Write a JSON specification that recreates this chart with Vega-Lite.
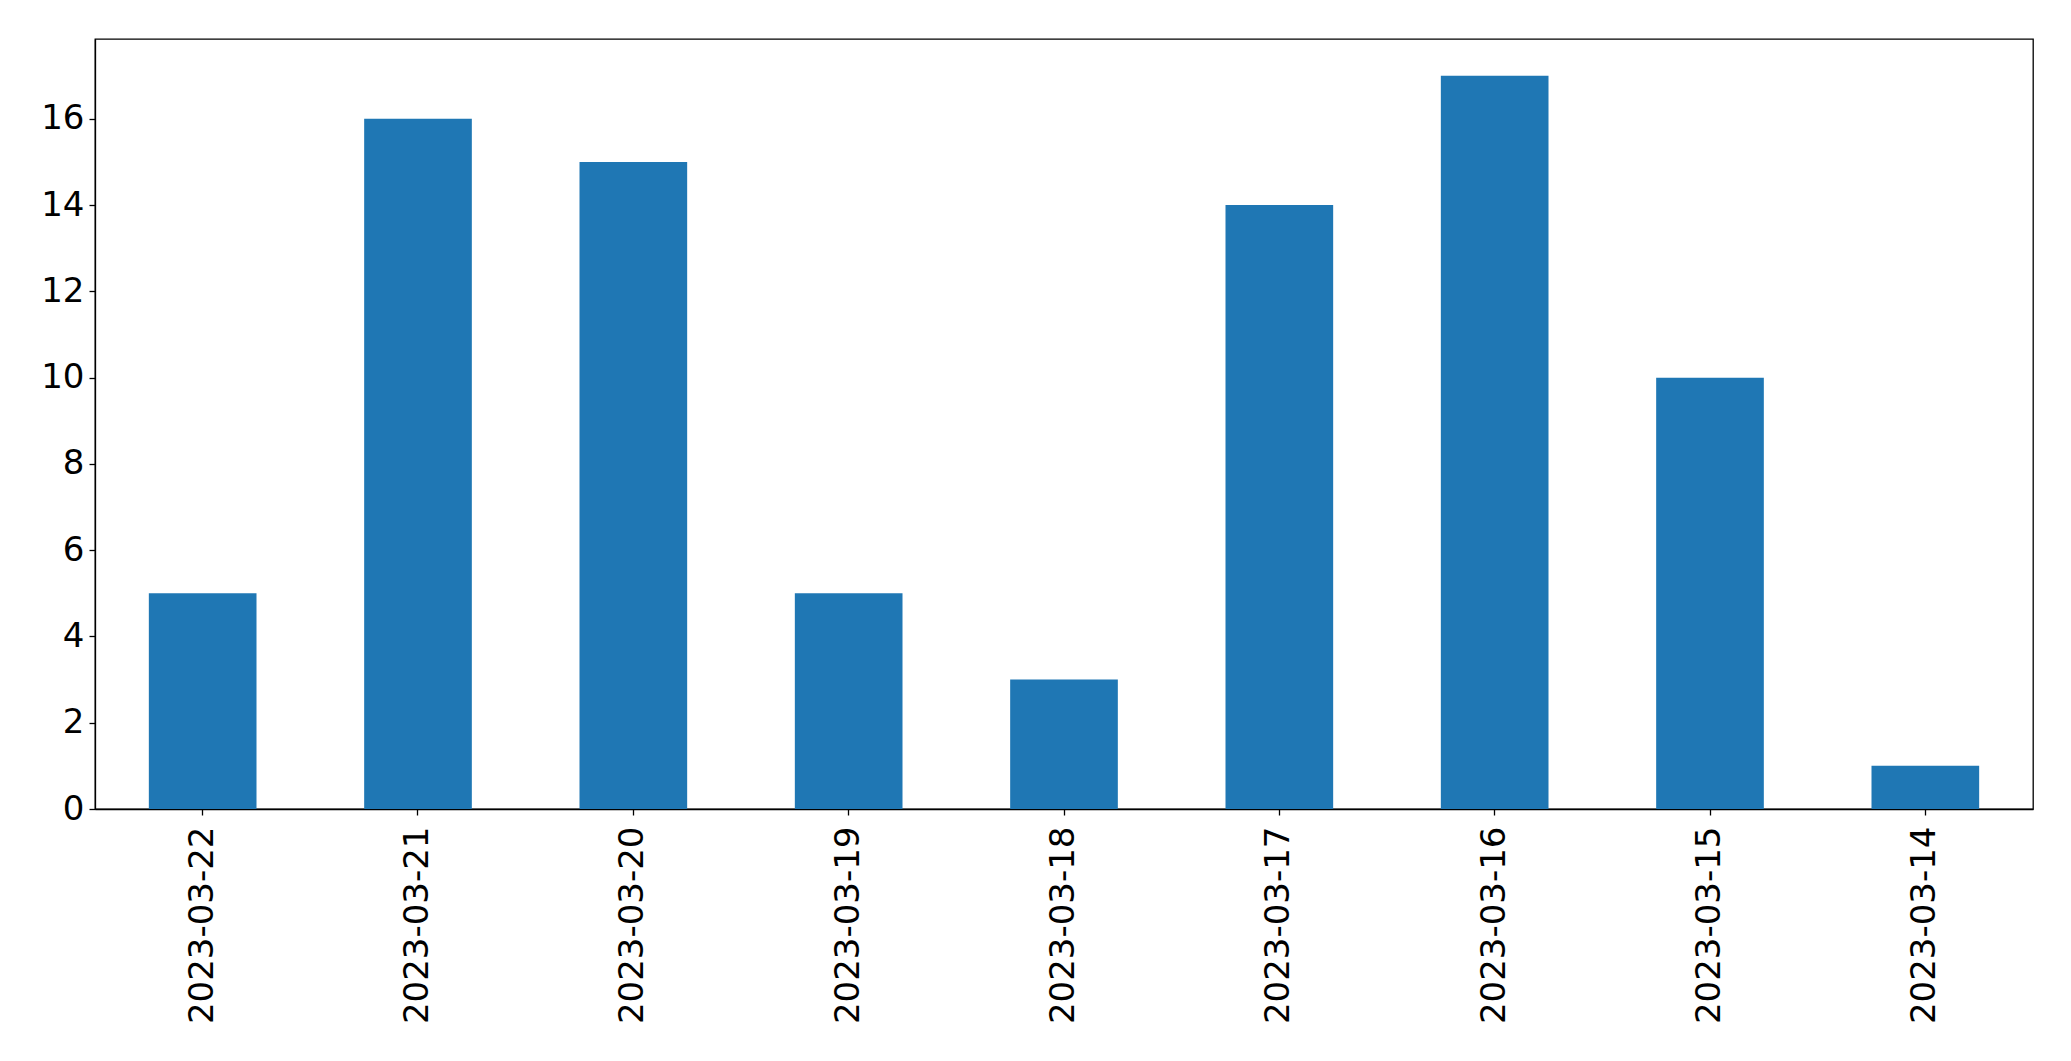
{
  "$schema": "https://vega.github.io/schema/vega-lite/v6.json",
  "autosize": {"type": "none"},
  "padding": {"left": 95, "top": 39, "right": 38, "bottom": 252},
  "width": 1938,
  "height": 770,
  "background": "white",
  "config": {
    "view": {"stroke": "black", "strokeWidth": 1.3},
    "font": "DejaVu Sans",
    "axis": {
      "grid": false,
      "domainColor": "black",
      "domainWidth": 1.3,
      "tickColor": "black",
      "tickWidth": 1.3,
      "tickSize": 6,
      "labelColor": "black",
      "labelFont": "DejaVu Sans",
      "labelFontSize": 34,
      "labelLimit": 0,
      "labelOverlap": false,
      "title": null
    }
  },
  "data": {
    "values": [
      {"date": "2023-03-22", "count": 5},
      {"date": "2023-03-21", "count": 16},
      {"date": "2023-03-20", "count": 15},
      {"date": "2023-03-19", "count": 5},
      {"date": "2023-03-18", "count": 3},
      {"date": "2023-03-17", "count": 14},
      {"date": "2023-03-16", "count": 17},
      {"date": "2023-03-15", "count": 10},
      {"date": "2023-03-14", "count": 1}
    ]
  },
  "mark": {"type": "bar", "color": "#1f77b4"},
  "encoding": {
    "x": {
      "field": "date",
      "type": "nominal",
      "sort": null,
      "scale": {"paddingInner": 0.5, "paddingOuter": 0.25},
      "axis": {"labelAngle": -90, "labelAlign": "right", "labelBaseline": "middle", "labelPadding": 11, "title": null}
    },
    "y": {
      "field": "count",
      "type": "quantitative",
      "scale": {"domain": [0, 17.85], "nice": false},
      "axis": {"values": [0, 2, 4, 6, 8, 10, 12, 14, 16], "labelPadding": 5, "title": null}
    }
  }
}
